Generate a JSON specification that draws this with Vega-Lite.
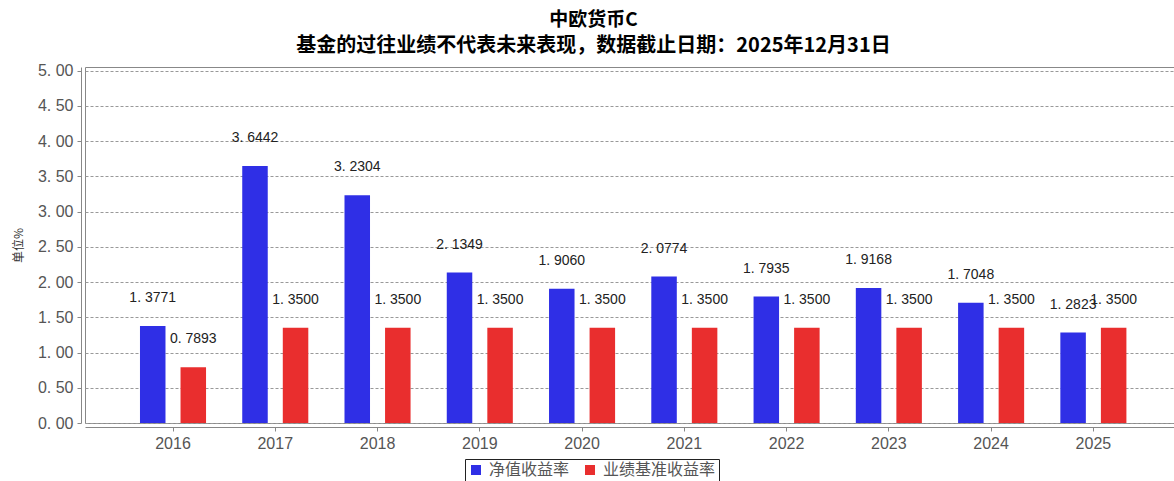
{
  "$schema": "https://vega.github.io/schema/vega-lite/v6.json",
  "autosize": "none",
  "width": 1089,
  "height": 356,
  "padding": {"left": 85, "top": 67, "right": 0, "bottom": 58},
  "background": "white",
  "title": {
    "text": "中欧货币C",
    "subtitle": "基金的过往业绩不代表未来表现，数据截止日期：2025年12月31日",
    "anchor": "middle",
    "dx": -36,
    "offset": 7,
    "font": "Noto Sans CJK SC",
    "fontSize": 19,
    "fontWeight": "bold",
    "color": "#000",
    "subtitleFont": "Noto Sans CJK SC",
    "subtitleFontSize": 20,
    "subtitleFontWeight": "bold",
    "subtitleColor": "#000",
    "subtitlePadding": 6
  },
  "config": {
    "view": {"stroke": "#888", "strokeWidth": 1},
    "axis": {
      "labelFont": "Liberation Sans",
      "labelColor": "#555",
      "domainColor": "#888",
      "tickColor": "#888",
      "tickSize": 4
    }
  },
  "data": {
    "values": [
      {"year": "2016", "series": "净值收益率", "value": 1.3771},
      {"year": "2016", "series": "业绩基准收益率", "value": 0.7893},
      {"year": "2017", "series": "净值收益率", "value": 3.6442},
      {"year": "2017", "series": "业绩基准收益率", "value": 1.35},
      {"year": "2018", "series": "净值收益率", "value": 3.2304},
      {"year": "2018", "series": "业绩基准收益率", "value": 1.35},
      {"year": "2019", "series": "净值收益率", "value": 2.1349},
      {"year": "2019", "series": "业绩基准收益率", "value": 1.35},
      {"year": "2020", "series": "净值收益率", "value": 1.906},
      {"year": "2020", "series": "业绩基准收益率", "value": 1.35},
      {"year": "2021", "series": "净值收益率", "value": 2.0774},
      {"year": "2021", "series": "业绩基准收益率", "value": 1.35},
      {"year": "2022", "series": "净值收益率", "value": 1.7935},
      {"year": "2022", "series": "业绩基准收益率", "value": 1.35},
      {"year": "2023", "series": "净值收益率", "value": 1.9168},
      {"year": "2023", "series": "业绩基准收益率", "value": 1.35},
      {"year": "2024", "series": "净值收益率", "value": 1.7048},
      {"year": "2024", "series": "业绩基准收益率", "value": 1.35},
      {"year": "2025", "series": "净值收益率", "value": 1.2823},
      {"year": "2025", "series": "业绩基准收益率", "value": 1.35}
    ]
  },
  "transform": [
    {"calculate": "replace(format(datum.value, '.4f'), '.', '. ')", "as": "label"}
  ],
  "encoding": {
    "x": {
      "field": "year",
      "type": "nominal",
      "sort": null,
      "scale": {"paddingInner": 0.354, "paddingOuter": 0.5015, "align": 0.536},
      "axis": {
        "title": null,
        "labelAngle": 0,
        "labelFontSize": 16,
        "labelPadding": 4,
        "offset": 4,
        "grid": false
      }
    },
    "xOffset": {
      "field": "series",
      "type": "nominal",
      "sort": ["净值收益率", "业绩基准收益率"],
      "scale": {"paddingInner": 0.371, "paddingOuter": 0}
    },
    "y": {
      "field": "value",
      "type": "quantitative",
      "scale": {"domain": [0, 5.05], "nice": false, "zero": true},
      "axis": {
        "title": "单位%",
        "titleFont": "Noto Sans CJK SC",
        "titleFontSize": 12,
        "titleFontWeight": "normal",
        "titleColor": "#333",
        "titlePadding": 12,
        "values": [0, 0.5, 1, 1.5, 2, 2.5, 3, 3.5, 4, 4.5, 5],
        "labelExpr": "replace(format(datum.value, '.2f'), '.', '. ')",
        "labelFontSize": 16,
        "labelPadding": 4,
        "offset": 4,
        "grid": true,
        "gridColor": "#999",
        "gridDash": [3, 2],
        "gridWidth": 1
      }
    }
  },
  "layer": [
    {
      "mark": {"type": "bar"},
      "encoding": {
        "color": {
          "field": "series",
          "type": "nominal",
          "sort": ["净值收益率", "业绩基准收益率"],
          "scale": {"domain": ["净值收益率", "业绩基准收益率"], "range": ["#2f2fe6", "#e92e2e"]},
          "legend": {
            "title": null,
            "orient": "none",
            "direction": "horizontal",
            "legendX": 380,
            "legendY": 392,
            "symbolType": "square",
            "symbolSize": 100,
            "symbolStrokeWidth": 0,
            "labelFont": "Noto Sans CJK SC",
            "labelFontSize": 16,
            "labelColor": "#555",
            "labelOffset": 5,
            "columnPadding": 12,
            "strokeColor": "#222",
            "padding": 3,
            "fillColor": "white"
          }
        }
      }
    },
    {
      "mark": {"type": "text", "baseline": "middle", "align": "center", "dy": -28, "font": "Liberation Sans", "fontSize": 14, "color": "#222"},
      "encoding": {
        "text": {"field": "label", "type": "nominal"}
      }
    }
  ]
}
